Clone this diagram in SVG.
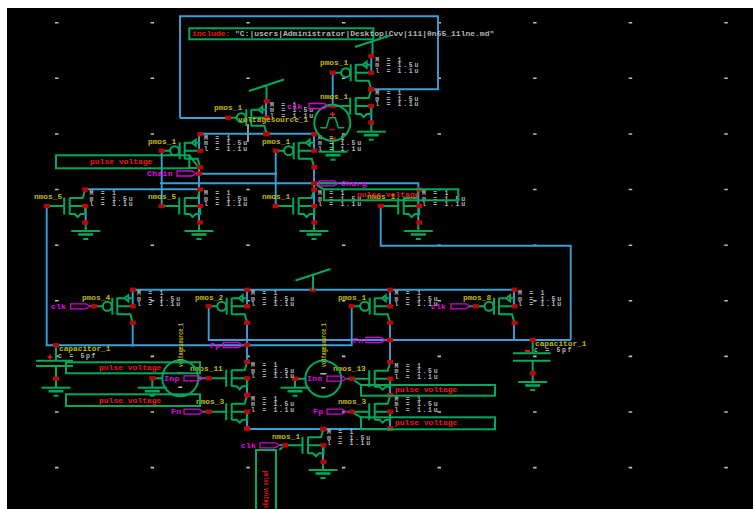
<svg xmlns="http://www.w3.org/2000/svg" width="753" height="509" viewBox="0 0 753 509">
<style>
text{font-family:"Liberation Mono","DejaVu Sans Mono",monospace;font-weight:700;white-space:pre}
.g{fill:none;stroke:#00a85c;stroke-width:2}
.w{fill:none;stroke:#3a9fd6;stroke-width:1.9}
.r{fill:#b80606}
.nm{fill:#c0b800;font-size:7.800px}
.pr{fill:#b4b4b4;font-size:6.500px;letter-spacing:1.700px}
.lb{fill:#f01414;font-size:8px}
.pn{fill:#e800e8;font-size:8px;letter-spacing:.4px}
.pp{fill:none;stroke:#d800d8;stroke-width:1.300}
.gr{fill:none;stroke:#bcbcbc;stroke-width:1.600}
</style>
<defs>
<rect id="d" class="r" x="-3" y="-2.200" width="6" height="4.400"/>
<g id="nmos">
<path class="g" d="M0 0H17M17.500 -8.500V8.500M23 -8.500V8.500M23 -8H36L38.500 -16.500M23 0H38.500M23 8H28L31 11L34 8H38.500V0"/>
<use href="#d" x="0" y="0"/><use href="#d" x="38.500" y="-16.500"/><use href="#d" x="38.500" y="0"/><use href="#d" x="38.500" y="16.500"/>
</g>
<g id="pmos">
<path class="g" d="M0 0H9M18 -8.500V8.500M23 -8.500V8.500M23 0H38.500M23 8H36L38.500 16.500M23 -8H30L34 -11V-5L30 -8M34 -8H38.500"/>
<circle class="g" cx="13" cy="0" r="4.500"/>
<use href="#d" x="0" y="0"/><use href="#d" x="38.500" y="-16.500"/><use href="#d" x="38.500" y="0"/><use href="#d" x="38.500" y="16.500"/>
</g>
<g id="gnd">
<path class="g" d="M-14.500 0H14.500"/><path class="g" style="stroke-width:2.600" d="M-7.500 3.500H7.500"/><path class="g" d="M-2.500 8H2.500"/>
</g>
<path id="pin" class="pp" d="M0 -2.500H15L19 0L15 2.500H0Z"/>
<path id="vdd" class="g" d="M-17.500 5.500L17.500 -6M0 0V15"/>
<g id="src">
<circle class="g" r="18"/>
<path class="g" style="stroke-width:1.500" d="M-12 5H-6L-3 -5H3L6 5H12"/>
</g>
<g id="src2">
<circle class="g" r="18"/>
<path class="gr" d="M-3 -5H3M-2 9H2"/>
</g>
</defs>
<rect x="7" y="8" width="746" height="501" fill="#000"/>
<path id="grid" class="gr" d="M55 22.700h3.500M150.600 22.700h3.500M246.300 22.700h3.500M341.900 22.700h3.500M437.500 22.700h3.500M533.100 22.700h3.500M628.700 22.700h3.500M724.300 22.700h3.500M55 78.300h3.500M150.600 78.300h3.500M246.300 78.300h3.500M341.900 78.300h3.500M437.500 78.300h3.500M533.100 78.300h3.500M628.700 78.300h3.500M724.300 78.300h3.500M55 134h3.500M150.600 134h3.500M246.300 134h3.500M341.900 134h3.500M437.500 134h3.500M533.100 134h3.500M628.700 134h3.500M724.300 134h3.500M55 189.500h3.500M150.600 189.500h3.500M246.300 189.500h3.500M341.900 189.500h3.500M437.500 189.500h3.500M533.100 189.500h3.500M628.700 189.500h3.500M724.300 189.500h3.500M55 245.200h3.500M150.600 245.200h3.500M246.300 245.200h3.500M341.900 245.200h3.500M437.500 245.200h3.500M533.100 245.200h3.500M628.700 245.200h3.500M724.300 245.200h3.500M55 300.800h3.500M150.600 300.800h3.500M246.300 300.800h3.500M341.900 300.800h3.500M437.500 300.800h3.500M533.100 300.800h3.500M628.700 300.800h3.500M724.300 300.800h3.500M55 356.400h3.500M150.600 356.400h3.500M246.300 356.400h3.500M341.900 356.400h3.500M437.500 356.400h3.500M533.100 356.400h3.500M628.700 356.400h3.500M724.300 356.400h3.500M55 412h3.500M150.600 412h3.500M246.300 412h3.500M341.900 412h3.500M437.500 412h3.500M533.100 412h3.500M628.700 412h3.500M724.300 412h3.500M55 467.600h3.500M150.600 467.600h3.500M246.300 467.600h3.500M341.900 467.600h3.500M437.500 467.600h3.500M533.100 467.600h3.500M628.700 467.600h3.500M724.300 467.600h3.500M248 124V142"/>
<g id="connectors">
<path class="w" d="M180 118V16.300H438V89.300H371.300M180 118H228.300M371.300 56.700V72.700M332.700 72.700V106M371.300 106V123M266 100V117.700M199 133.700H314M199 133.700V150.700M314 133.700V150.700M199 168V222.700M314 168V222.700M161.700 150.700V206M275.700 150.700V206M199 173.700H277M160 183.300H418.300V222.700M85.700 189.300H199M85.700 206V222.700M380.700 206V245.700H570.700V340M208.700 306.300V340H570.700M46.700 206V345.300H351.700V306.300M132.700 289.700H514M132.700 289.700V306.300M247 289.700V306.300M390 289.700V306.300M514 289.700V306.300M132.700 323V346.700M247 323V362.700M247 378.300V395.300M247 411.700V429H390M390 411.700V429M390 323V362.700M390 378.700V395.300M514 323V340M323 445V462.300"/>
<path class="g" d="M189.300 168H199M314 183.500L324 189.300M352 379L361 385M352 412L361 417.300M279.300 450L285 445M199 168L189.300 155.300M203 378.300H208.700M347 378.700H351.700M347 411.700H351.700M203 411.700H208.700M279.300 445H285M196 173.500H199M89.300 306.300H94.300M468.300 306.300H476M327 106H332.700M242 345H247M385 340H390M336.700 183.300H314M371.300 123V131.700M85.700 222.700V231M199 222.700V231M314 222.700V231M418.300 222.700V231M323 462.300V470M333 140V151.700M56 345.300V360.700M56 366V387.700M532.700 340V353.300M532.700 360.700V382M152.300 378.300V387.700M295 378.700V387.700M152.300 378.300H162.300M295 378.700H305.300M198.300 378.300H203"/>
<use href="#d" x="314" y="183.300"/><use href="#d" x="199" y="173.700"/><use href="#d" x="266" y="133.700"/><use href="#d" x="247" y="345"/><use href="#d" x="390" y="340"/><use href="#d" x="312.700" y="289.700"/><use href="#d" x="56" y="345.300"/><use href="#d" x="56" y="378.700"/><use href="#d" x="532.700" y="340"/><use href="#d" x="532.700" y="373.300"/><use href="#d" x="152.300" y="378.300"/><use href="#d" x="295" y="378.700"/><use href="#d" x="323" y="429.300"/><use href="#d" x="333" y="139.500"/><use href="#d" x="247" y="429"/><use href="#d" x="390" y="429"/>
</g>
<g id="include"><rect class="g" x="189.300" y="28.300" width="184" height="11"/><text class="lb" x="192" y="36">include:</text><text class="pr" x="235" y="36" style="font-size:8px;letter-spacing:0">"C:|users|Administrator|Desktop|Cvv|111|0n65_11lne.md"</text></g>
<g id="vdd1"><use href="#vdd" x="372.500" y="41.500"/></g>
<g id="vdd2"><use href="#vdd" x="266.500" y="85.500"/></g>
<g id="vdd3"><use href="#vdd" x="313" y="275"/></g>
<g id="m1"><use href="#pmos" x="332.700" y="72.700"/><text class="nm" x="320" y="65">pmos_1</text><text class="pr" x="375.200" y="61.700">M = 1</text><text class="pr" x="375.200" y="67.200">m = 1.5u</text><text class="pr" x="375.200" y="72.700">l = 1.1u</text></g>
<g id="m2"><use href="#nmos" x="332.700" y="106"/><text class="nm" x="320" y="99">nmos_1</text><text class="pr" x="375.200" y="95">M = 1</text><text class="pr" x="375.200" y="100.500">m = 1.5u</text><text class="pr" x="375.200" y="106">l = 1.1u</text></g>
<g id="m3"><use href="#pmos" x="228.300" y="117.700"/><text class="nm" x="214" y="110">pmos_1</text><text class="pr" x="270" y="106.700">M = 1</text><text class="pr" x="270" y="112.200">m = 1.5u</text><text class="pr" x="270" y="117.700">l = 1.1u</text></g>
<g id="m4"><use href="#pmos" x="161.700" y="150.700"/><text class="nm" x="148" y="144">pmos_1</text><text class="pr" x="204" y="139.700">M = 1</text><text class="pr" x="204" y="145.200">m = 1.5u</text><text class="pr" x="204" y="150.700">l = 1.1u</text></g>
<g id="m5"><use href="#pmos" x="275.700" y="150.700"/><text class="nm" x="262" y="144">pmos_1</text><text class="pr" x="318" y="139.700">M = 1</text><text class="pr" x="318" y="145.200">m = 1.5u</text><text class="pr" x="318" y="150.700">l = 1.1u</text></g>
<g id="m6"><use href="#nmos" x="46.700" y="206"/><text class="nm" x="34" y="199">nmos_5</text><text class="pr" x="89.500" y="195">M = 1</text><text class="pr" x="89.500" y="200.500">m = 1.5u</text><text class="pr" x="89.500" y="206">l = 1.1u</text></g>
<g id="m7"><use href="#nmos" x="161.700" y="206"/><text class="nm" x="148" y="199">nmos_5</text><text class="pr" x="204" y="195">M = 1</text><text class="pr" x="204" y="200.500">m = 1.5u</text><text class="pr" x="204" y="206">l = 1.1u</text></g>
<g id="m8"><use href="#nmos" x="275.700" y="206"/><text class="nm" x="262" y="199">nmos_1</text><text class="pr" x="318" y="195">M = 1</text><text class="pr" x="318" y="200.500">m = 1.5u</text><text class="pr" x="318" y="206">l = 1.1u</text></g>
<g id="m9"><use href="#nmos" x="380.700" y="206"/><text class="nm" x="367" y="199">nmos_1</text><text class="pr" x="422" y="195">M = 1</text><text class="pr" x="422" y="200.500">m = 1.5u</text><text class="pr" x="422" y="206">l = 1.1u</text></g>
<g id="m10"><use href="#pmos" x="94.300" y="306.300"/><text class="nm" x="82" y="300">pmos_4</text><text class="pr" x="137" y="295.300">M = 1</text><text class="pr" x="137" y="300.800">m = 1.5u</text><text class="pr" x="137" y="306.300">l = 1.1u</text></g>
<g id="m11"><use href="#pmos" x="208.700" y="306.300"/><text class="nm" x="195" y="300">pmos_2</text><text class="pr" x="251" y="295.300">M = 1</text><text class="pr" x="251" y="300.800">m = 1.5u</text><text class="pr" x="251" y="306.300">l = 1.1u</text></g>
<g id="m12"><use href="#pmos" x="351.700" y="306.300"/><text class="nm" x="338" y="300">pmos_1</text><text class="pr" x="394.500" y="295.300">M = 1</text><text class="pr" x="394.500" y="300.800">m = 1.5u</text><text class="pr" x="394.500" y="306.300">l = 1.1u</text></g>
<g id="m13"><use href="#pmos" x="476" y="306.300"/><text class="nm" x="463" y="300">pmos_8</text><text class="pr" x="518" y="295.300">M = 1</text><text class="pr" x="518" y="300.800">m = 1.5u</text><text class="pr" x="518" y="306.300">l = 1.1u</text></g>
<g id="m14"><use href="#nmos" x="208.700" y="378.300"/><text class="nm" x="190" y="371">nmos_11</text><text class="pr" x="251" y="367.300">M = 1</text><text class="pr" x="251" y="372.800">m = 1.5u</text><text class="pr" x="251" y="378.300">l = 1.1u</text></g>
<g id="m15"><use href="#nmos" x="351.700" y="378.700"/><text class="nm" x="333" y="371">nmos_13</text><text class="pr" x="394.500" y="367.700">M = 1</text><text class="pr" x="394.500" y="373.200">m = 1.5u</text><text class="pr" x="394.500" y="378.700">l = 1.1u</text></g>
<g id="m16"><use href="#nmos" x="208.700" y="411.700"/><text class="nm" x="196" y="404">nmos_3</text><text class="pr" x="251" y="400.700">M = 1</text><text class="pr" x="251" y="406.200">m = 1.5u</text><text class="pr" x="251" y="411.700">l = 1.1u</text></g>
<g id="m17"><use href="#nmos" x="351.700" y="411.700"/><text class="nm" x="338" y="404">nmos_3</text><text class="pr" x="394.500" y="400.700">M = 1</text><text class="pr" x="394.500" y="406.200">m = 1.5u</text><text class="pr" x="394.500" y="411.700">l = 1.1u</text></g>
<g id="m18"><use href="#nmos" x="285" y="445.300"/><text class="nm" x="272" y="439">nmos_1</text><text class="pr" x="327" y="434.300">M = 1</text><text class="pr" x="327" y="439.800">m = 1.5u</text><text class="pr" x="327" y="445.300">l = 1.1u</text></g>
<g id="grounds"><use href="#gnd" x="371.300" y="131.700"/><use href="#gnd" x="85.700" y="231"/><use href="#gnd" x="199" y="231"/><use href="#gnd" x="314" y="231"/><use href="#gnd" x="418.300" y="231"/><use href="#gnd" x="323" y="470"/><use href="#gnd" x="333" y="151.700"/><use href="#gnd" x="56" y="387.700"/><use href="#gnd" x="532.700" y="382"/><use href="#gnd" x="152.300" y="387.700"/><use href="#gnd" x="295" y="387.700"/></g>
<g id="src-top"><use href="#src" x="332.300" y="122.700"/><path fill="#f01414" d="M330 113.500h5v1.500h-5zM332 112h1.500v5h-1.500z"/><path stroke="#b80606" stroke-width="1.500" d="M329 129.500h6"/><text class="nm" x="238" y="122">voltagesource_1</text></g>
<g id="src-inp"><use href="#src2" x="180.300" y="378.300"/><text class="nm" transform="translate(182.500 367) rotate(-90)" textLength="44" lengthAdjust="spacingAndGlyphs" style="font-size:7px">voltagesource_1</text></g>
<g id="src-inn"><use href="#src2" x="323.300" y="378.700"/><text class="nm" transform="translate(325.500 367) rotate(-90)" textLength="44" lengthAdjust="spacingAndGlyphs" style="font-size:7px">voltagesource_1</text></g>
<g id="cap1"><path class="g" d="M36 360.700H73M36 366H73"/><path fill="#f01414" d="M47.500 356.500h5v1.500h-5zM49.300 354.500h1.500v5h-1.500z"/><text class="nm" x="59" y="351">capacitor_1</text><text class="pr" x="58" y="357.500">c = 5pf</text></g>
<g id="cap2"><path class="g" d="M513 353.300H550.700M513 360.700H550.700"/><path fill="#f01414" d="M525 350h5v2h-5z"/><text class="nm" x="535" y="345.500">capacitor_1</text><text class="pr" x="534" y="351.500">c = 5pf</text></g>
<g id="v1"><rect class="g" x="56" y="155.300" width="133.300" height="13"/><text class="lb" x="90" y="163.500">pulse voltage</text></g>
<g id="v2"><rect class="g" x="324" y="189.300" width="134.300" height="11"/><text class="lb" x="357" y="196.500">pulse voltage</text></g>
<g id="v3"><rect class="g" x="66" y="362.300" width="134" height="11"/><text class="lb" x="99" y="370.300">pulse voltage</text></g>
<g id="v4"><rect class="g" x="66" y="394.300" width="134" height="11.700"/><text class="lb" x="99" y="402.500">pulse voltage</text></g>
<g id="v5"><rect class="g" x="361" y="385" width="134" height="10.700"/><text class="lb" x="395" y="392">pulse voltage</text></g>
<g id="v6"><rect class="g" x="361" y="417.300" width="134" height="12"/><text class="lb" x="395" y="425">pulse voltage</text></g>
<g id="v7"><path class="g" d="M256 509V450H276V509"/><text class="lb" transform="translate(263.500 471) rotate(90)" textLength="37" lengthAdjust="spacingAndGlyphs">pulse voltage</text></g>
<g id="pins">
<use href="#pin" x="309" y="106"/><text class="pn" x="287" y="108.500">clk</text>
<use href="#pin" x="177" y="173.500"/><text class="pn" x="147" y="176">Chain</text>
<use href="#pin" x="319" y="183.300"/><text class="pn" x="341" y="186">Charg</text>
<use href="#pin" x="70.700" y="306.300"/><text class="pn" x="50.700" y="308.800">clk</text>
<use href="#pin" x="451" y="306.300"/><text class="pn" x="430.700" y="308.800">clk</text>
<use href="#pin" x="223.300" y="345"/><text class="pn" x="210" y="347.500">Fp</text>
<use href="#pin" x="366" y="340"/><text class="pn" x="353" y="342.500">Fn</text>
<use href="#pin" x="184" y="378.300"/><text class="pn" x="164" y="380.800">Inp</text>
<use href="#pin" x="327" y="378.700"/><text class="pn" x="307" y="381.200">Inn</text>
<use href="#pin" x="184" y="411.700"/><text class="pn" x="171" y="414.200">Fn</text>
<use href="#pin" x="327" y="411.700"/><text class="pn" x="313" y="414.200">Fp</text>
<use href="#pin" x="260" y="445.300"/><text class="pn" x="240.700" y="447.800">clk</text>
</g>
</svg>
